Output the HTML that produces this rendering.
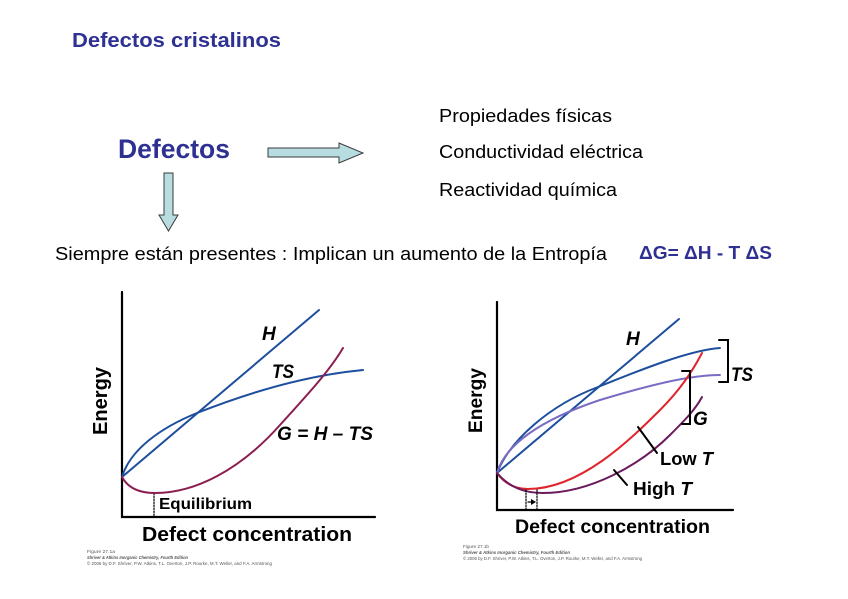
<!DOCTYPE html>
<html><head><meta charset="utf-8"><style>
html,body{margin:0;padding:0;background:#fff;}
svg{display:block;}
text{font-family:"Liberation Sans",Arial,sans-serif;}
</style></head><body>
<svg width="848" height="599" viewBox="0 0 848 599" xmlns="http://www.w3.org/2000/svg">
<rect width="848" height="599" fill="#fff"/>
<!-- Title -->
<text x="72" y="47" font-size="20" font-weight="bold" fill="#2e3192" textLength="209" lengthAdjust="spacingAndGlyphs">Defectos cristalinos</text>
<text x="118" y="158" font-size="27" font-weight="bold" fill="#2e3192" textLength="112" lengthAdjust="spacingAndGlyphs">Defectos</text>
<!-- arrows -->
<polygon points="268,148 339,148 339,143 363,153 339,163 339,157 268,157" fill="#b8dde1" stroke="#3a3a3a" stroke-width="1"/>
<polygon points="164,173 173,173 173,215 178,215 168.5,231 159,215 164,215" fill="#b8dde1" stroke="#3a3a3a" stroke-width="1"/>
<!-- right list -->
<text x="439" y="122" font-size="18.5" fill="#000" textLength="173" lengthAdjust="spacingAndGlyphs">Propiedades físicas</text>
<text x="439" y="158" font-size="18.5" fill="#000" textLength="204" lengthAdjust="spacingAndGlyphs">Conductividad eléctrica</text>
<text x="439" y="196" font-size="18.5" fill="#000" textLength="178" lengthAdjust="spacingAndGlyphs">Reactividad química</text>
<text x="55" y="260" font-size="18" fill="#000" textLength="552" lengthAdjust="spacingAndGlyphs">Siempre están presentes : Implican un aumento de la Entropía</text>
<text x="639" y="259" font-size="18" font-weight="bold" fill="#2e3192" textLength="133" lengthAdjust="spacingAndGlyphs">ΔG= ΔH - T ΔS</text>

<!-- LEFT CHART -->
<g fill="none" stroke-linecap="round">
<path d="M122,292 L122,517 L375,517" stroke="#000" stroke-width="2.2"/>
<line x1="154" y1="493" x2="154" y2="517" stroke="#000" stroke-width="1.2" stroke-dasharray="1.5,1.5"/>
<path d="M122,477 L319,310" stroke="#1d4f9e" stroke-width="2"/>
<path d="M122,477 C130,450 160,428 197,413 C240,396 300,376 363,370" stroke="#1d4f9e" stroke-width="2"/>
<path d="M122,477 C128,488 140,493 155,493 C195,493 240,470 280,425 C310,392 330,370 343,348" stroke="#8b1e50" stroke-width="2"/>
</g>
<g font-weight="bold" font-style="italic" font-size="19" fill="#000">
<text x="262" y="340">H</text>
<text x="272" y="378" textLength="22" lengthAdjust="spacingAndGlyphs">TS</text>
<text x="277" y="440" textLength="96" lengthAdjust="spacingAndGlyphs">G = H – TS</text>
</g>
<text transform="translate(107,435) rotate(-90)" font-size="20" font-weight="bold" fill="#000" textLength="68" lengthAdjust="spacingAndGlyphs">Energy</text>
<text x="159" y="509" font-size="16" font-weight="bold" fill="#000" textLength="93" lengthAdjust="spacingAndGlyphs">Equilibrium</text>
<text x="142" y="541" font-size="20" font-weight="bold" fill="#000" textLength="210" lengthAdjust="spacingAndGlyphs">Defect concentration</text>
<g font-size="4.6" fill="#555">
<text x="87" y="553" textLength="28" lengthAdjust="spacingAndGlyphs">Figure 27.1a</text>
<text x="87" y="559" font-style="italic" font-weight="bold" textLength="101" lengthAdjust="spacingAndGlyphs">Shriver &amp; Atkins Inorganic Chemistry, Fourth Edition</text>
<text x="87" y="565" textLength="185" lengthAdjust="spacingAndGlyphs">© 2006 by D.F. Shriver, P.W. Atkins, T.L. Overton, J.P. Rourke, M.T. Weller, and F.A. Armstrong</text>
</g>

<!-- RIGHT CHART -->
<g fill="none" stroke-linecap="round">
<path d="M497,302 L497,510 L733,510" stroke="#000" stroke-width="2.2"/>
<path d="M497,473 L679,319" stroke="#1d4f9e" stroke-width="2"/>
<path d="M497,473 C510,440 550,405 598,387 C640,370 690,350 720,348" stroke="#1d4f9e" stroke-width="2"/>
<path d="M497,473 C505,445 540,420 600,400 C650,385 690,375 720,375" stroke="#7a6cc4" stroke-width="2"/>
<path d="M497,473 C505,484 515,489 528,489 C580,489 630,440 660,410 C680,390 692,372 702,353" stroke="#e0242c" stroke-width="2"/>
<path d="M497,473 C510,488 525,493 543,493 C590,493 640,465 670,435 C685,420 695,410 702,397" stroke="#6b1a5c" stroke-width="2"/>
<!-- brackets -->
<path d="M719,340 L728,340 L728,382 L719,382" stroke="#000" stroke-width="2"/>
<path d="M682,371 L690,371 L690,424 L682,424" stroke="#000" stroke-width="2"/>
<!-- leaders -->
<line x1="638" y1="427" x2="657" y2="453" stroke="#000" stroke-width="2"/>
<line x1="614" y1="470" x2="627" y2="485" stroke="#000" stroke-width="2"/>
<!-- dotted box -->
<line x1="526" y1="490" x2="526" y2="510" stroke="#000" stroke-width="1.2" stroke-dasharray="1.5,1.5"/>
<line x1="537" y1="490" x2="537" y2="510" stroke="#000" stroke-width="1.2" stroke-dasharray="1.5,1.5"/>
<line x1="528" y1="502" x2="532" y2="502" stroke="#000" stroke-width="1.2"/>
</g>
<polygon points="531,499 536,502 531,505" fill="#000"/>
<g font-weight="bold" font-style="italic" font-size="19" fill="#000">
<text x="626" y="345">H</text>
<text x="731" y="381" textLength="22" lengthAdjust="spacingAndGlyphs">TS</text>
<text x="693" y="425">G</text>
</g>
<text x="660" y="465" font-size="18" font-weight="bold" fill="#000" textLength="53" lengthAdjust="spacingAndGlyphs">Low <tspan font-style="italic">T</tspan></text>
<text x="633" y="495" font-size="18" font-weight="bold" fill="#000" textLength="59" lengthAdjust="spacingAndGlyphs">High <tspan font-style="italic">T</tspan></text>
<text transform="translate(482,433) rotate(-90)" font-size="19" font-weight="bold" fill="#000" textLength="65" lengthAdjust="spacingAndGlyphs">Energy</text>
<text x="515" y="533" font-size="19" font-weight="bold" fill="#000" textLength="195" lengthAdjust="spacingAndGlyphs">Defect concentration</text>
<g font-size="4.6" fill="#555">
<text x="463" y="548" textLength="26" lengthAdjust="spacingAndGlyphs">Figure 27.1b</text>
<text x="463" y="554" font-style="italic" font-weight="bold" textLength="107" lengthAdjust="spacingAndGlyphs">Shriver &amp; Atkins Inorganic Chemistry, Fourth Edition</text>
<text x="463" y="560" textLength="179" lengthAdjust="spacingAndGlyphs">© 2006 by D.F. Shriver, P.W. Atkins, T.L. Overton, J.P. Rourke, M.T. Weller, and F.A. Armstrong</text>
</g>
</svg>
</body></html>
